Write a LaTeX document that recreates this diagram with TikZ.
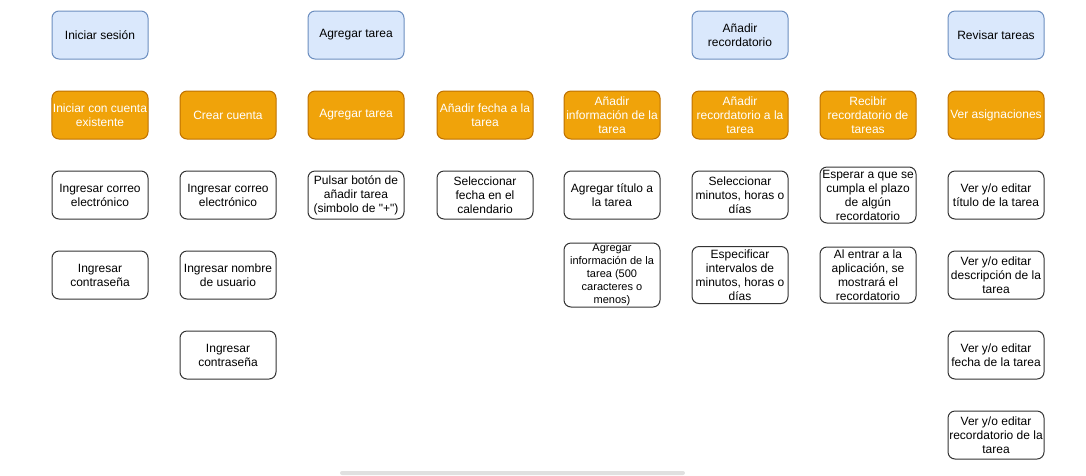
\documentclass[tikz,border=0pt]{standalone}
\usepackage{fontspec}
\setmainfont{Liberation Sans}
\definecolor{casefill}{HTML}{DAE8FC}
\definecolor{caseline}{HTML}{6C8EBF}
\definecolor{taskfill}{HTML}{F0A30A}
\definecolor{taskline}{HTML}{BD7000}
\definecolor{scrollgrey}{HTML}{E0E0E0}

\begin{document}
\begin{tikzpicture}[x=1pt, y=-1pt,
      every node/.style = {shape=rectangle, rounded corners=7pt, draw, line width=1pt,
        align=center, minimum width=96pt, minimum height=48pt, inner sep=1pt,
        font=\fontsize{12}{14}\selectfont},
      casebox/.style = {fill=casefill, draw=caseline},
      taskbox/.style = {fill=taskfill, draw=taskline, text=white},
      stepbox/.style = {fill=white, draw=black!80}]
    \useasboundingbox (0,0) rectangle (1086,475);
    % casos de uso
    \node[casebox] (sesion) at (100,35) {Iniciar sesión};
    \node[casebox] (agregar) at (356,35) {Agregar tarea};
    \node[casebox] (recordar) at (740,35) {Añadir\\recordatorio};
    \node[casebox] (revisar) at (996,35) {Revisar tareas};
    % tareas
    \node[taskbox] (existente) at (100,115) {Iniciar con cuenta\\existente};
    \node[taskbox] (crear) at (228,115) {Crear cuenta};
    \node[taskbox] (agregarT) at (356,115) {Agregar tarea};
    \node[taskbox] (fecha) at (485,115) {Añadir fecha a la\\tarea};
    \node[taskbox] (info) at (612,115) {Añadir\\información de la\\tarea};
    \node[taskbox] (recordT) at (740,115) {Añadir\\recordatorio a la\\tarea};
    \node[taskbox] (recibir) at (868,115) {Recibir\\recordatorio de\\tareas};
    \node[taskbox] (asignar) at (996,115) {Ver asignaciones};
    % pasos
    \node[stepbox] (correoA) at (100,195) {Ingresar correo\\electrónico};
    \node[stepbox] (claveA) at (100,275) {Ingresar\\contraseña};
    \node[stepbox] (correoB) at (228,195) {Ingresar correo\\electrónico};
    \node[stepbox] (usuario) at (228,275) {Ingresar nombre\\de usuario};
    \node[stepbox] (claveB) at (228,355) {Ingresar\\contraseña};
    \node[stepbox] (pulsar) at (356,195) {Pulsar botón de\\añadir tarea\\(simbolo de \textquotedbl+\textquotedbl)};
    \node[stepbox] (calendario) at (485,195) {Seleccionar\\fecha en el\\calendario};
    \node[stepbox] (titulo) at (612,195) {Agregar título a\\la tarea};
    \node[stepbox, minimum height=64pt, font=\fontsize{11}{13}\selectfont] (descr) at (612,275)
      {Agregar\\información de la\\tarea (500\\caracteres o\\menos)};
    \node[stepbox] (minutos) at (740,195) {Seleccionar\\minutos, horas o\\días};
    \node[stepbox, minimum height=57pt] (intervalos) at (740,275) {Especificar\\intervalos de\\minutos, horas o\\días};
    \node[stepbox, minimum height=56pt] (esperar) at (868,195) {Esperar a que se\\cumpla el plazo\\de algún\\recordatorio};
    \node[stepbox, minimum height=56pt] (mostrar) at (868,275) {Al entrar a la\\aplicación, se\\mostrará el\\recordatorio};
    \node[stepbox] (verTitulo) at (996,195) {Ver y/o editar\\título de la tarea};
    \node[stepbox] (verDescr) at (996,275) {Ver y/o editar\\descripción de la\\tarea};
    \node[stepbox] (verFecha) at (996,355) {Ver y/o editar\\fecha de la tarea};
    \node[stepbox] (verRecord) at (996,435) {Ver y/o editar\\recordatorio de la\\tarea};
    % barra inferior
    \fill[scrollgrey, rounded corners=2pt] (340,471) rectangle (685,475);
\end{tikzpicture}
\end{document}
